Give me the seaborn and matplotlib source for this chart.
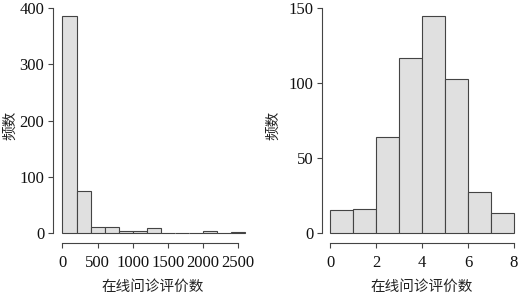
import numpy as np
import pandas as pd
import seaborn as sns
import matplotlib.pyplot as plt

# left panel: raw number of online consultation reviews, bins of 200
left_edges = [0, 200, 400, 600, 800, 1000, 1200, 1400, 1600, 1800, 2000, 2200, 2400, 2600]
left_counts = [386, 75, 10, 10, 3, 3, 8, 0, 0, 0, 3, 0, 1]
left_xticks = [0, 500, 1000, 1500, 2000, 2500]
left_yticks = [0, 100, 200, 300, 400]

# right panel: log-transformed values, bins of 1
right_edges = [0, 1, 2, 3, 4, 5, 6, 7, 8]
right_counts = [15, 16, 64, 117, 145, 103, 27, 13]
right_xticks = [0, 2, 4, 6, 8]
right_yticks = [0, 50, 100, 150]

xlabel = "在线问诊评价数"
ylabel = "频数"

sns.set_theme(style="white")
plt.rcParams["font.family"] = ["Liberation Serif", "Noto Sans CJK SC"]
plt.rcParams["font.size"] = 12

line_col = "#444444"
fill_col = "#E0E0E0"
W, H = 519, 293


def px_axes(fig, left, right, top, bottom):
    return fig.add_axes([left / W, 1 - bottom / H, (right - left) / W, (bottom - top) / H])


def draw_hist(ax, edges, counts, xticks, yticks, xlim, ylim):
    e = np.array(edges, dtype=float)
    mids = (e[:-1] + e[1:]) / 2
    df = pd.DataFrame({"x": mids, "n": counts})
    sns.histplot(data=df, x="x", weights="n", bins=list(edges), ax=ax,
                 color=fill_col, edgecolor=line_col, linewidth=0.8, alpha=1)
    ax.set_xlim(*xlim)
    ax.set_ylim(*ylim)
    ax.set_xticks(xticks)
    ax.set_yticks(yticks)
    for s in ["top", "right"]:
        ax.spines[s].set_visible(False)
    for s in ["left", "bottom"]:
        ax.spines[s].set_color(line_col)
        ax.spines[s].set_linewidth(0.8)
    ax.spines["bottom"].set_bounds(xticks[0], xticks[-1])
    ax.spines["left"].set_bounds(yticks[0], yticks[-1])
    ax.tick_params(axis="both", direction="out", length=3.8, width=0.8,
                   color=line_col, labelcolor="#111111", labelsize=12,
                   bottom=True, left=True)
    ax.tick_params(axis="x", pad=5)
    ax.tick_params(axis="y", pad=2.5)
    ax.set_xlabel(xlabel, fontsize=10.5, color="#222222", family=["Noto Sans CJK SC"])
    ax.set_ylabel(ylabel, fontsize=10.5, color="#222222", family=["Noto Sans CJK SC"])
    ax.grid(False)
    ax.patch.set_alpha(0)


fig = plt.figure(figsize=(W / 100, H / 100), dpi=100)

# left: 0 -> x=62.5px, 0.0702 px/unit; y: 0 -> 233px, 400 -> 8px
ax1 = px_axes(fig, 53, 252.3, 7, 243)
draw_hist(ax1, left_edges, left_counts, left_xticks, left_yticks,
          (-135, 2704), (-17.8, 401.8))
ax1.yaxis.set_label_coords(-0.18, 0.5)
ax1.xaxis.set_label_coords(0.5, -0.155)

# right: 0 -> 330px, 23 px/unit; y: 0 -> 233px, 150 -> 8px
ax2 = px_axes(fig, 322, 521.4, 7, 243)
draw_hist(ax2, right_edges, right_counts, right_xticks, right_yticks,
          (-0.348, 8.32), (-6.67, 150.67))
ax2.yaxis.set_label_coords(-0.21, 0.5)
ax2.xaxis.set_label_coords(0.5, -0.155)

fig.savefig("out.png", dpi=100)
